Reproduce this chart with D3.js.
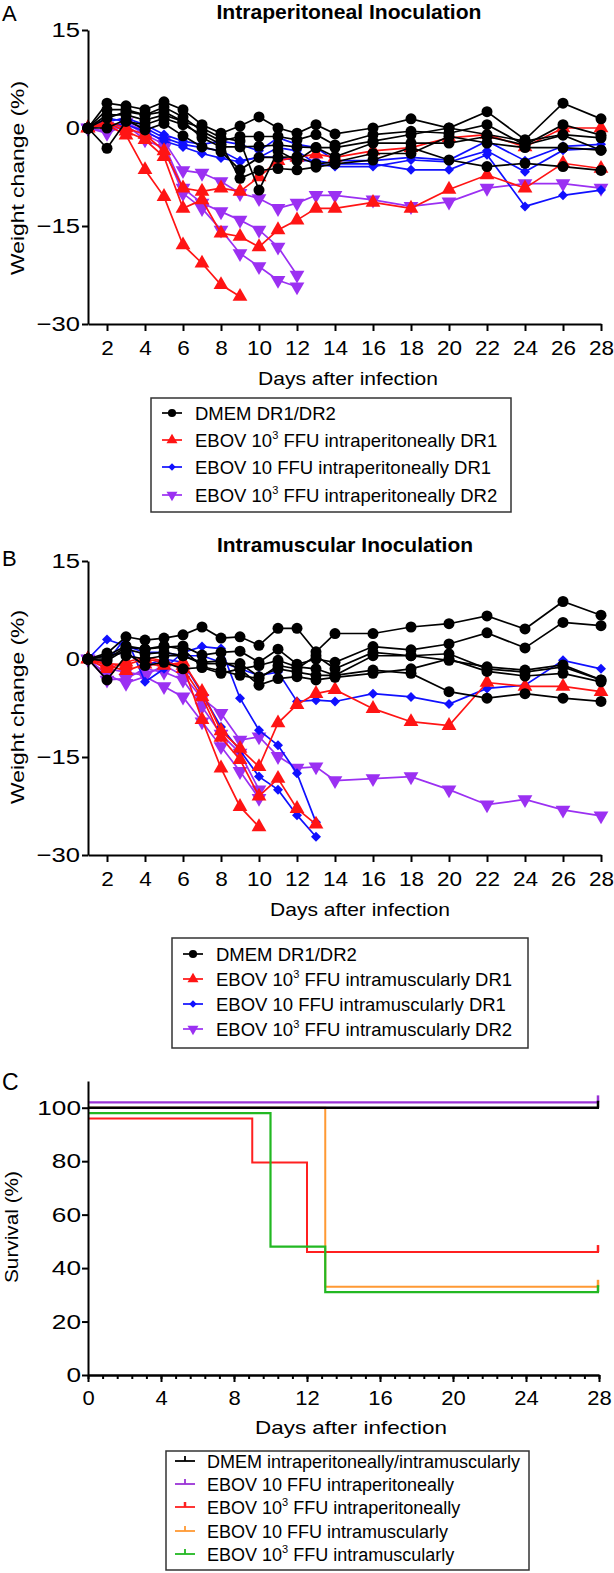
<!DOCTYPE html>
<html><head><meta charset="utf-8">
<script src="https://cdn.jsdelivr.net/npm/d3@7"></script>
<style>
body{margin:0;background:#fff}
text{font-family:"Liberation Sans",Arial,Helvetica,sans-serif;fill:#000}
</style>
</head><body>
<svg id="chart" width="614" height="1573"></svg>
<script>
// ---------- DATA ----------
const days = [1,2,3,4,5,6,7,8,9,10,11,12,13,14,16,18,20,22,24,26,28];
const dayTicksAB = [2,4,6,8,10,12,14,16,18,20,22,24,26,28];
const weightTicks = [15,0,-15,-30];

// Panel A: intraperitoneal (one array per mouse, aligned with days)
const ipDMEM = [
 [0,3.8,3.4,2.8,4.0,2.8,0.5,-0.8,0.3,1.7,0.0,-0.8,0.5,-0.9,0.0,1.4,0.0,2.5,-1.8,3.8,1.4],
 [0,2.8,2.8,2.0,3.2,1.7,-0.5,-2.0,-1.3,-1.3,-1.3,-1.8,-1.0,-2.6,-1.0,-0.5,-0.8,0.5,-2.6,0.5,-1.1],
 [0,2.0,2.0,1.2,2.0,1.0,-1.5,-2.9,-2.9,-2.8,-2.6,-2.9,-3.0,-4.4,-2.3,-2.3,-2.3,-1.3,-2.6,-1.1,-3.4],
 [0,0.0,1.3,-0.3,0.7,-1.2,-2.9,-3.6,-6.4,-4.5,-4.5,-4.4,-5.5,-5.2,-3.9,-3.9,-1.3,-2.3,-3.0,-3.0,-3.4],
 [0,-3.1,1.0,0.5,1.5,0.5,-1.0,-2.5,-7.7,-6.5,-6.2,-6.4,-6.0,-5.5,-4.9,-3.0,-4.9,-5.9,-5.4,-5.9,-6.5],
 [0,1.5,2.5,2.0,2.5,1.0,0.0,-1.5,-2.0,-9.5,-3.5,-5.0,-3.0,-3.0,-2.0,-1.0,0.0,-1.0,-2.0,-1.0,-1.5]
];
const ipEBOV1000DR1 = [
 [0,0.5,-1.1,-6.4,-10.5,-17.9,-20.7,-24.0,-25.8],
 [0,0.8,-0.5,-1.8,-4.4,-12.3,-11.0,-16.1,-16.6,-18.2,-15.6,-14.1,-12.3,-12.3,-11.4,-12.3,-9.4,-7.2,-9.2,-5.4,-6.2],
 [0,1.0,0.0,-1.0,-3.5,-9.2,-9.7,-9.2,-9.7,-7.5,-5.0,-4.5,-4.0,-4.5,-3.5,-3.0,-1.5,-1.0,-2.9,0.0,0.0]
];
const ipEBOV10DR1 = [
 [0,1.5,1.0,0.0,-1.5,-2.5,-3.0,-3.5,-5.0,-4.5,-3.0,-3.5,-5.5,-5.9,-5.9,-4.9,-5.2,-3.5,-6.7,-3.4,-3.1],
 [0,0.5,0.5,-0.5,-2.0,-2.9,-3.9,-4.6,-5.2,-4.4,-4.5,-5.0,-5.0,-5.5,-5.5,-6.4,-6.4,-4.1,-12.0,-10.3,-9.5],
 [0,1.0,1.5,0.5,-1.0,-2.0,-2.5,-2.0,-2.5,-3.5,-1.5,-2.5,-3.0,-5.0,-5.0,-4.5,-4.9,-2.0,-5.0,-2.8,-2.5]
];
const ipEBOV1000DR2 = [
 [0,-0.8,0.5,-1.8,-3.1,-10.0,-12.3,-15.6,-19.2,-21.2,-23.3,-24.3],
 [0,0.3,0.8,-0.5,-2.0,-6.5,-6.9,-8.2,-10.0,-10.8,-12.3,-11.5,-10.3,-10.3,-11.0,-12.0,-11.3,-9.2,-8.5,-8.5,-9.2],
 [0,-0.5,0.8,-1.0,-2.5,-9.2,-11.5,-12.8,-14.1,-15.6,-18.2,-22.5]
];

// Panel B: intramuscular
const imDMEM = [
 [0,0.9,3.4,2.9,3.2,3.7,4.9,3.2,3.4,2.1,4.7,4.7,1.1,3.9,3.9,4.9,5.4,6.6,4.6,8.8,6.7],
 [0,0.5,2.0,1.5,1.8,2.0,0.6,1.0,1.2,-0.5,1.5,-0.8,0.0,-0.5,1.9,1.4,2.3,4.0,1.7,5.6,5.1],
 [0,-0.3,1.5,0.8,1.0,0.5,-0.5,-0.3,-1.5,-1.0,-0.2,-1.2,-1.5,-2.5,0.5,0.5,-0.2,-1.2,-1.7,-0.9,-3.2],
 [0,-3.2,0.5,0.0,0.5,0.5,-0.7,-0.7,-0.7,-2.7,-1.5,-2.0,-2.5,-2.5,-1.7,-2.2,-5.0,-6.0,-5.3,-6.0,-6.5],
 [0,0.5,1.0,-1.0,-0.5,-1.5,-1.3,-2.2,-1.5,-4.0,-3.0,-2.7,-3.2,-2.8,-2.2,-1.5,0.0,-1.9,-2.6,-2.2,-3.5],
 [0,0.0,1.8,1.5,2.0,1.5,-1.2,-1.8,-2.5,-3.0,-1.0,-1.5,0.5,-1.5,1.0,0.5,0.8,-1.5,-2.0,-1.2,-3.2]
];
const imEBOV1000DR1 = [
 [0,-0.7,-0.9,0.0,-0.5,-1.0,-9.3,-16.7,-22.6,-25.7],
 [0,-1.5,-0.5,0.3,-0.3,-1.5,-5.8,-12.0,-15.4,-21.0,-18.3,-22.9,-25.3],
 [0,-1.0,-1.8,-0.8,-1.0,-0.5,-5.0,-11.0,-13.7,-16.5,-9.8,-7.0,-5.3,-4.7,-7.6,-9.6,-10.2,-3.6,-4.2,-4.2,-5.0]
];
const imEBOV10DR1 = [
 [0,3.0,2.0,1.0,1.0,0.5,0.5,-0.5,-1.5,-2.5,-2.0,-6.5,-6.3,-6.5,-5.3,-5.8,-6.9,-4.5,-4.0,-0.2,-1.5],
 [0,-0.5,3.4,-3.5,-1.5,1.0,1.9,1.6,-6.0,-10.9,-13.2,-17.5,-25.0],
 [0,0.5,1.0,-1.0,0.0,-0.5,-5.3,-10.4,-14.0,-18.0,-20.0,-23.9,-27.2]
];
const imEBOV1000DR2 = [
 [0,-2.4,-3.7,-2.7,-4.2,-5.8,-9.6,-13.4,-17.2,-21.3],
 [0,-3.2,-3.0,-1.5,-2.0,-3.2,-7.3,-11.5,-14.4,-20.0],
 [0,-1.5,-2.0,-2.5,-1.0,-2.5,-6.0,-8.3,-12.4,-11.9,-14.9,-16.7,-16.5,-18.6,-18.3,-18.0,-20.0,-22.3,-21.5,-23.1,-24.0]
];

// Panel C: survival (step curves as [day, percent])
const survDMEM    = [[0,100],[28,100]];
const survIP10    = [[0,102],[28,102]];
const survIP1000  = [[0,96],[9,79.5],[12,46],[28,46]];
const survIM10    = [[0,100],[13,33],[28,33]];
const survIM1000  = [[0,98],[10,48],[13,31],[28,31]];
const survivalTicks = [0,20,40,60,80,100];
const dayTicksC = [0,4,8,12,16,20,24,28];

const legendA = ["DMEM DR1/DR2","EBOV 10^3 FFU intraperitoneally DR1","EBOV 10 FFU intraperitoneally DR1","EBOV 10^3 FFU intraperitoneally DR2"];
const legendB = ["DMEM DR1/DR2","EBOV 10^3 FFU intramuscularly DR1","EBOV 10 FFU intramuscularly DR1","EBOV 10^3 FFU intramuscularly DR2"];
const legendC = ["DMEM intraperitoneally/intramuscularly","EBOV 10 FFU intraperitoneally","EBOV 10^3 FFU intraperitoneally","EBOV 10 FFU intramuscularly","EBOV 10^3 FFU intramuscularly"];

// ---------- STYLE ----------
const COL = {black:"#000000", red:"#ff1414", blue:"#1010ff", purple:"#9b30f2"};
const CCOL = {black:"#000000", purple:"#9a33d6", red:"#ff2020", orange:"#ff9933", green:"#22b822"};

const svg = d3.select("#chart");

function addLabel(g, str, x, y, opts={}) {
  const t = g.append("text")
    .attr("transform", `translate(${x},${y})` + (opts.rot ? ` rotate(${opts.rot})` : ""))
    .attr("text-anchor", opts.anchor || "start")
    .attr("font-size", opts.size || 18)
    .attr("font-weight", opts.weight || "normal");
  const parts = str.split("^");
  if (parts.length === 1) {
    t.text(str);
  } else {
    t.append("tspan").text(parts[0]);
    t.append("tspan").attr("font-size", Math.round((opts.size||18)*0.62)).attr("dy", -8).text(parts[1][0]);
    t.append("tspan").attr("dy", 8).text(parts[1].slice(1));
  }
  if (opts.len) t.attr("textLength", opts.len).attr("lengthAdjust", "spacingAndGlyphs");
  return t;
}

function shapePath(shape, size) {
  if (shape === "circle") return d3.symbol(d3.symbolCircle, size)();
  if (shape === "diamond") return d3.symbol(d3.symbolSquare, size)();
  return d3.symbol(d3.symbolTriangle, size)();
}
function shapeRot(shape) {
  if (shape === "diamond") return 45;
  if (shape === "down") return 180;
  return 0;
}

function styleAxis(g, fontSize, stretch, isLeft, pad) {
  g.select(".domain").attr("stroke", "#000").attr("stroke-width", 2);
  g.selectAll(".tick line").attr("stroke", "#000").attr("stroke-width", 2);
  g.selectAll(".tick text").attr("font-size", fontSize).attr("fill", "#000")
    .attr("font-family", '"Liberation Sans",Arial,sans-serif')
    .attr("transform", `scale(${stretch},1)`);
  if (isLeft) g.selectAll(".tick text").attr("x", -pad / stretch);
}

function weightPanel(cfg) {
  const g = svg.append("g");
  const x = d3.scaleLinear().domain([1,28]).range([88,601]);
  const y = d3.scaleLinear().domain([-30,15]).range([cfg.bottom, cfg.bottom - 294]);

  // series
  const line = d3.line().x(d => x(d[0])).y(d => y(d[1]));
  cfg.series.forEach(s => {
    const sg = g.append("g");
    s.data.forEach(mouse => {
      const pts = mouse.map((v,i) => [days[i], v]);
      sg.append("path").attr("d", line(pts)).attr("fill","none")
        .attr("stroke", s.color).attr("stroke-width", 1.7);
      sg.selectAll(null).data(pts).join("path")
        .attr("d", shapePath(s.shape, s.size))
        .attr("transform", d => `translate(${x(d[0])},${y(d[1])}) rotate(${shapeRot(s.shape)})`)
        .attr("fill", s.color);
    });
  });

  // axes
  const gx = g.append("g").attr("transform", `translate(0,${cfg.bottom})`)
    .call(d3.axisBottom(x).tickValues(dayTicksAB).tickSize(7).tickSizeOuter(0).tickPadding(9));
  styleAxis(gx, 20.5, 1.1, false);
  const gy = g.append("g").attr("transform", `translate(88,0)`)
    .call(d3.axisLeft(y).tickValues(weightTicks).tickSize(6).tickSizeOuter(0));
  styleAxis(gy, 21, 1.22, true, 8);

  addLabel(g, cfg.title, cfg.titleX, cfg.titleY, {anchor:"middle", size:21, weight:"bold", len:cfg.titleLen});
  addLabel(g, cfg.letter, 2, cfg.letterY, {size:22});
  addLabel(g, "Weight change (%)", 24, cfg.ylabY, {anchor:"middle", size:19, rot:-90, len:194});
  addLabel(g, "Days after infection", cfg.xlabX, cfg.bottom + 61, {anchor:"middle", size:19, len:180});

  // legend
  const L = cfg.legend;
  g.append("rect").attr("x", L.x).attr("y", L.y).attr("width", L.w).attr("height", L.h)
    .attr("fill", "none").attr("stroke", "#333").attr("stroke-width", 1.5);
  cfg.series.slice().reverse().forEach((s, i) => {
    const ry = L.rows[i];
    g.append("line").attr("x1", L.x + 11).attr("x2", L.x + 31).attr("y1", ry).attr("y2", ry)
      .attr("stroke", s.color).attr("stroke-width", 1.7);
    g.append("path").attr("d", shapePath(s.shape, s.size * 0.55))
      .attr("transform", `translate(${L.x + 21},${ry}) rotate(${shapeRot(s.shape)})`).attr("fill", s.color);
    addLabel(g, cfg.labels[i], L.x + 44, ry + 6.5, {size:18.5});
  });
}

// drawing order: purple, blue, red, black (black on top); legend uses reversed order
weightPanel({
  bottom: 324, letter: "A", letterY: 21, title: "Intraperitoneal Inoculation",
  titleX: 349, titleY: 19, titleLen: 265, ylabY: 178, xlabX: 348,
  labels: legendA,
  series: [
    {data: ipEBOV1000DR2, color: COL.purple, shape: "down", size: 95},
    {data: ipEBOV10DR1, color: COL.blue, shape: "diamond", size: 50},
    {data: ipEBOV1000DR1, color: COL.red, shape: "triangle", size: 95},
    {data: ipDMEM, color: COL.black, shape: "circle", size: 95}
  ],
  legend: {x:151, y:398, w:360, h:114, rows:[413,440,467,495]}
});

weightPanel({
  bottom: 855, letter: "B", letterY: 566, title: "Intramuscular Inoculation",
  titleX: 345, titleY: 552, titleLen: 256, ylabY: 707, xlabX: 360,
  labels: legendB,
  series: [
    {data: imEBOV1000DR2, color: COL.purple, shape: "down", size: 95},
    {data: imEBOV10DR1, color: COL.blue, shape: "diamond", size: 50},
    {data: imEBOV1000DR1, color: COL.red, shape: "triangle", size: 95},
    {data: imDMEM, color: COL.black, shape: "circle", size: 95}
  ],
  legend: {x:172, y:938, w:356, h:110, rows:[954,979,1004,1029]}
});

// ---------- PANEL C ----------
(function(){
  const g = svg.append("g");
  const x = d3.scaleLinear().domain([0,28]).range([88,599]);
  const y = d3.scaleLinear().domain([0,110]).range([1375,1081]);
  const step = d3.line().x(d => x(d[0])).y(d => y(d[1])).curve(d3.curveStepAfter);
  const curves = [
    {data: survIM10, color: CCOL.orange, w: 2},
    {data: survIP1000, color: CCOL.red, w: 2},
    {data: survIM1000, color: CCOL.green, w: 2.2},
    {data: survIP10, color: CCOL.purple, w: 2.2},
    {data: survDMEM, color: CCOL.black, w: 2.4}
  ];
  curves.forEach(c => {
    g.append("path").attr("d", step(c.data)).attr("fill","none")
      .attr("stroke", c.color).attr("stroke-width", c.w);
    const last = c.data[c.data.length-1];
    g.append("line").attr("x1", x(last[0]) - 1).attr("x2", x(last[0]) - 1)
      .attr("y1", y(last[1])).attr("y2", y(last[1]) - 7)
      .attr("stroke", c.color).attr("stroke-width", 2.5);
  });

  const minor = g.append("g").attr("transform","translate(0,1375)")
    .call(d3.axisBottom(x).tickValues(d3.range(0, 28.01, 0.8)).tickSize(4).tickSizeOuter(0).tickFormat(""));
  styleAxis(minor, 18, 1, false);
  const gx = g.append("g").attr("transform","translate(0,1375)")
    .call(d3.axisBottom(x).tickValues(dayTicksC).tickSize(7).tickSizeOuter(0).tickPadding(9));
  styleAxis(gx, 20, 1.1, false);
  const gy = g.append("g").attr("transform","translate(88,0)")
    .call(d3.axisLeft(y).tickValues(survivalTicks).tickSize(6).tickSizeOuter(0));
  styleAxis(gy, 20.5, 1.28, true, 7);

  addLabel(g, "C", 2, 1090, {size:23});
  addLabel(g, "Survival (%)", 18, 1227, {anchor:"middle", size:19, rot:-90, len:112});
  addLabel(g, "Days after infection", 351, 1434, {anchor:"middle", size:19, len:192});

  const L = {x:166, y:1451, w:363, h:119, rows:[1461,1484,1507,1531,1554]};
  g.append("rect").attr("x", L.x).attr("y", L.y).attr("width", L.w).attr("height", L.h)
    .attr("fill","none").attr("stroke","#333").attr("stroke-width",1.5);
  const legCols = [CCOL.black, CCOL.purple, CCOL.red, CCOL.orange, CCOL.green];
  legendC.forEach((lab, i) => {
    const ry = L.rows[i];
    g.append("line").attr("x1", L.x+9).attr("x2", L.x+29).attr("y1", ry).attr("y2", ry)
      .attr("stroke", legCols[i]).attr("stroke-width", 1.8);
    g.append("line").attr("x1", L.x+19).attr("x2", L.x+19).attr("y1", ry).attr("y2", ry-5)
      .attr("stroke", legCols[i]).attr("stroke-width", i === 2 ? 2.5 : 1.8);
    addLabel(g, lab, L.x + 41, ry + 7, {size:18});
  });
})();
</script>
</body></html>
